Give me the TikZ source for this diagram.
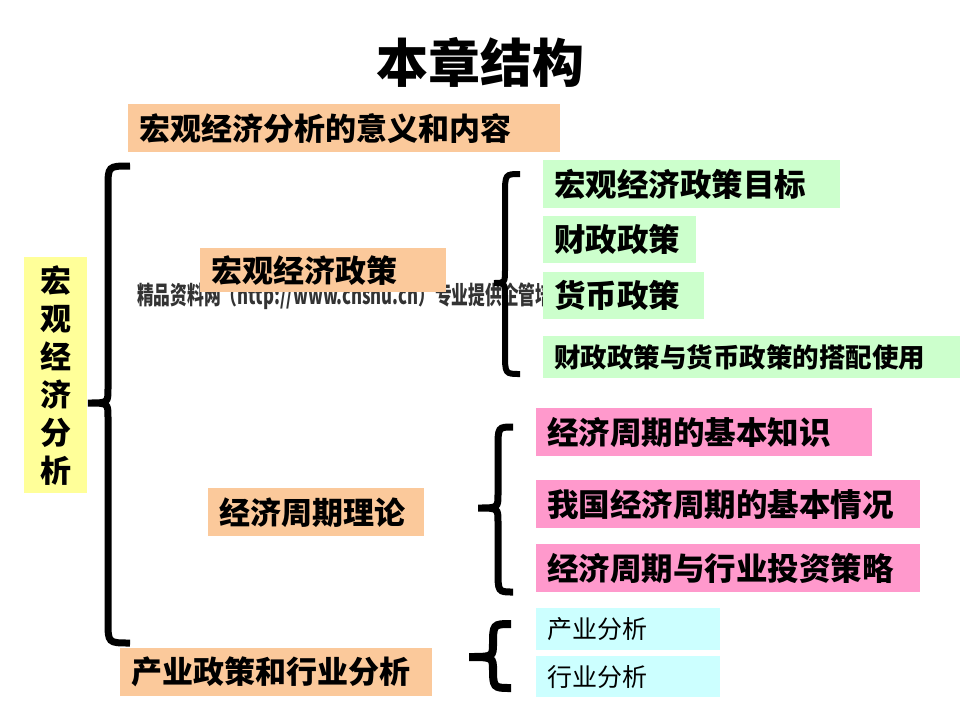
\documentclass[tikz,border=0pt]{standalone}
\usepackage{fontspec}
\setmainfont{Noto Sans CJK SC}
\newfontfamily\wmfont{Noto Sans CJK SC}[FakeStretch=0.67]
\newcommand\setfs[1]{\fontsize{#1}{#1}\selectfont}
\definecolor{orng}{RGB}{251,201,155}
\definecolor{grn}{RGB}{204,255,204}
\definecolor{pnk}{RGB}{255,153,204}
\definecolor{cyn}{RGB}{204,255,255}
\definecolor{ylw}{RGB}{255,255,153}
\newcommand\drawbrace[7]{% name, xe, yt, yb, xv, xt, ym
  \coordinate (#1t) at (#2,#3);
  \coordinate (#1b) at (#2,#4);
  \coordinate (#1m) at (#6,#7);
  \draw[bracestyle] (#1t) .. controls (#5,#3) .. ({#5},{#3+22})
    -- ({#5},{#7-14}) .. controls (#5,#7) .. (#1m)
    .. controls (#5,#7) .. ({#5},{#7+14})
    -- ({#5},{#4-22}) .. controls (#5,#4) .. (#1b);}
\begin{document}
\begin{tikzpicture}[x=1pt,y=-1pt,
  box/.style n args={3}{anchor=north west, inner xsep=11pt, inner ysep=0pt,
    align=left, text width=#1, minimum height=#2, fill=#3},
  bracestyle/.style={draw=black, line width=7pt}]
\useasboundingbox (0,0) rectangle (960,720);
% title
\node[font=\bfseries\setfs{52pt}, inner sep=0] (title) at (480,62) {本章结构};
% watermark
\node[anchor=west, inner sep=0, text=black!80, font=\wmfont\bfseries\setfs{25pt}] (wm) at (137,296)
  {精品资料网（http://www.cnshu.cn）专业提供企管培训资料};
% left column
\node[box={410pt}{48pt}{orng}, font=\bfseries\setfs{31pt}] (meaning) at (128,104) {宏观经济分析的意义和内容};
\node[anchor=north west, fill=ylw, minimum width=63pt, minimum height=236pt, inner sep=0,
  align=center, font=\bfseries\setfs{31pt}] (macro) at (24,257)
  {宏\\[7pt]观\\[7pt]经\\[7pt]济\\[7pt]分\\[7pt]析};
\node[box={224pt}{44pt}{orng}, font=\bfseries\setfs{31pt}] (policy) at (200,248) {宏观经济政策};
\node[box={194pt}{48pt}{orng}, font=\bfseries\setfs{31pt}] (cycle) at (208,488) {经济周期理论};
\node[box={290pt}{48pt}{orng}, font=\bfseries\setfs{31pt}] (industry) at (120,648) {产业政策和行业分析};
% green
\node[box={275pt}{48pt}{grn}, font=\bfseries\setfs{31.5pt}] (g1) at (543,160) {宏观经济政策目标};
\node[box={131pt}{47pt}{grn}, font=\bfseries\setfs{31.5pt}] (g2) at (543,216) {财政政策};
\node[box={139pt}{47pt}{grn}, font=\bfseries\setfs{31.5pt}] (g3) at (543,272) {货币政策};
\node[box={395pt}{42pt}{grn}, font=\bfseries\setfs{26.5pt}] (g4) at (543,336) {财政政策与货币政策的搭配使用};
% pink
\node[box={314pt}{48pt}{pnk}, font=\bfseries\setfs{31.5pt}] (p1) at (536,408) {经济周期的基本知识};
\node[box={362pt}{48pt}{pnk}, font=\bfseries\setfs{31.5pt}] (p2) at (536,480) {我国经济周期的基本情况};
\node[box={362pt}{48pt}{pnk}, font=\bfseries\setfs{31.5pt}] (p3) at (536,544) {经济周期与行业投资策略};
% cyan
\node[box={162pt}{42pt}{cyn}, font=\setfs{25pt}] (c1) at (536,608) {产业分析};
\node[box={162pt}{41pt}{cyn}, font=\setfs{25pt}] (c2) at (536,656) {行业分析};
% braces
\drawbrace{bigb}{130}{166}{643}{108}{88}{403}
\begin{scope}[bracestyle/.append style={line width=6pt}]
\drawbrace{polb}{520}{174}{374}{505}{494}{283}
\end{scope}
\drawbrace{cycb}{513}{427}{592}{498}{478}{508}
\begin{scope}[bracestyle/.append style={line width=8pt}]
\drawbrace{indb}{511}{624}{688}{493}{469}{657}
\end{scope}
\end{tikzpicture}
\end{document}
